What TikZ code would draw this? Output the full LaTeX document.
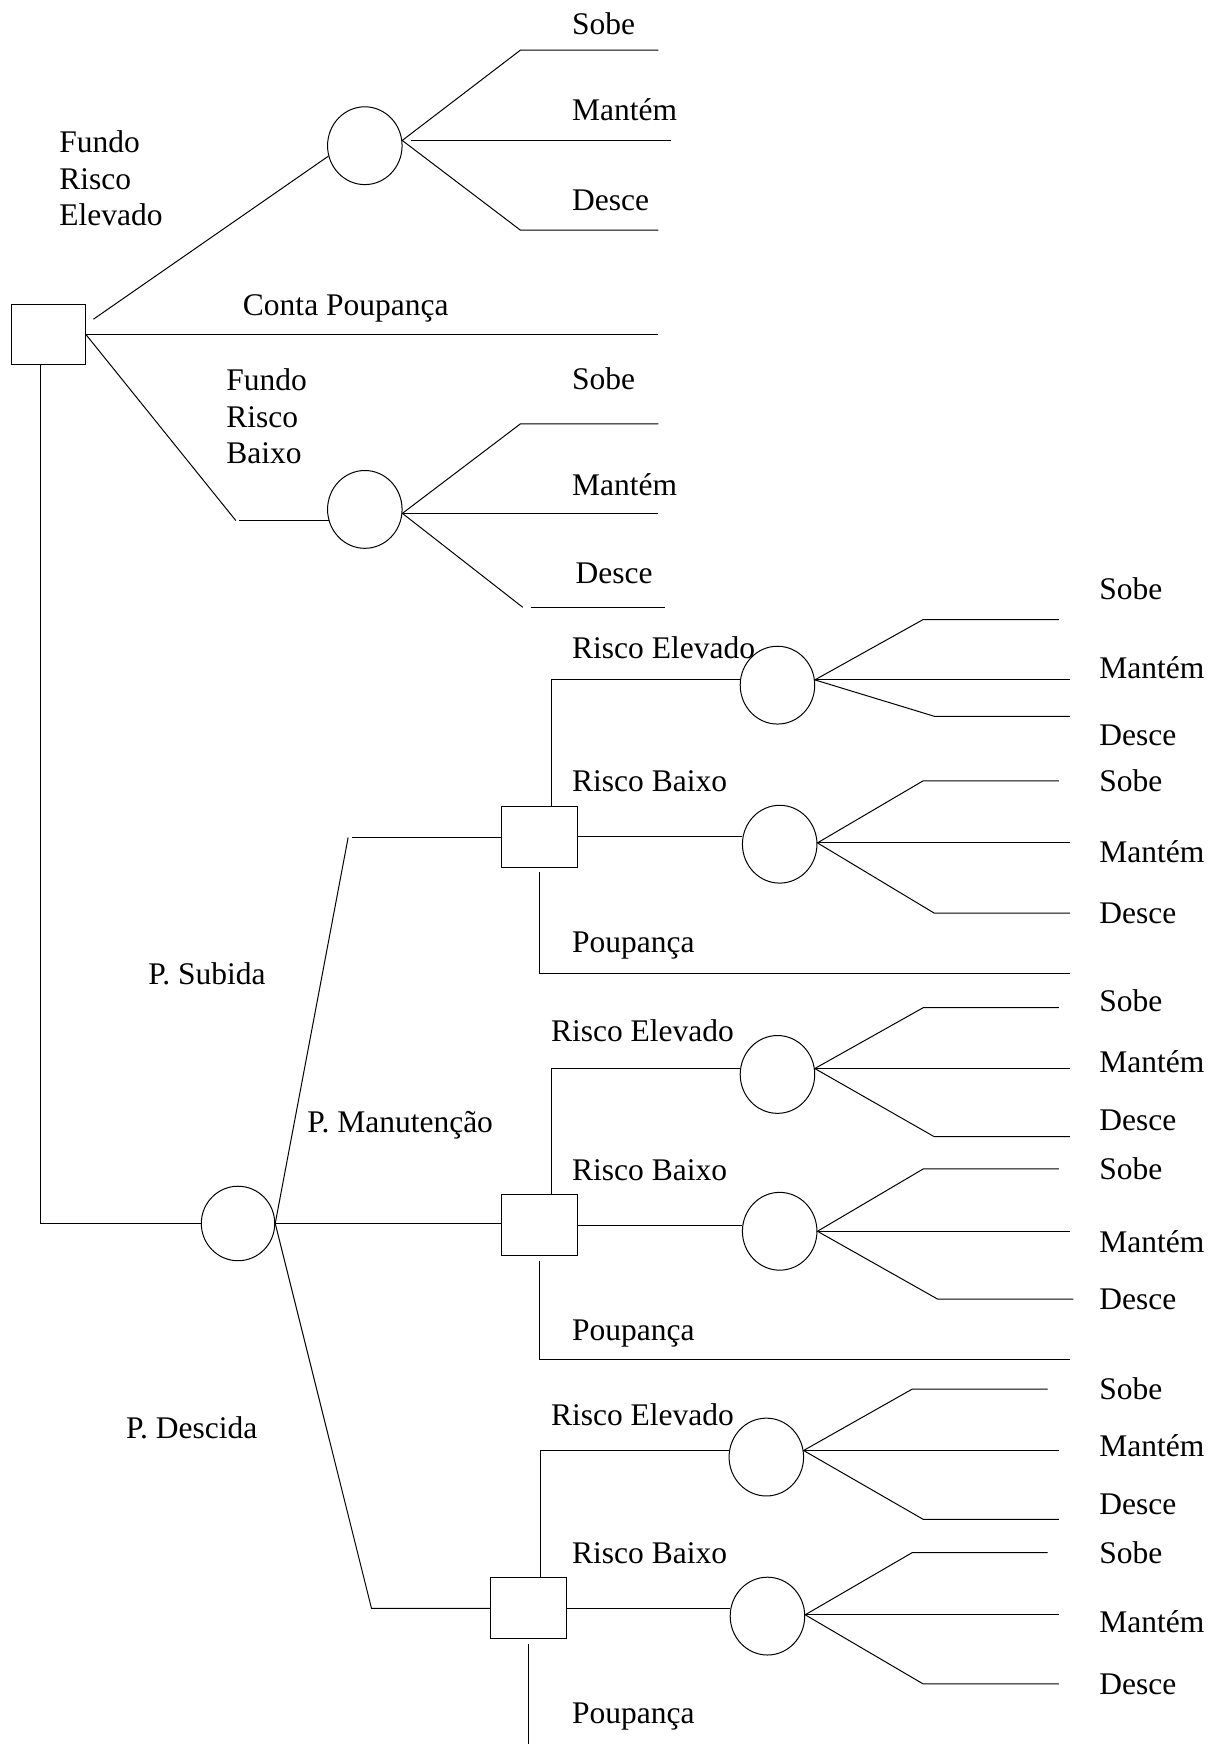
\documentclass[tikz,border=0pt]{standalone}
\usepackage{fontspec}
\setmainfont{Liberation Serif}
\usetikzlibrary{shapes.geometric}
\begin{document}
\begin{tikzpicture}[x=1.112pt,y=-1.112pt,line width=1pt,
  decision/.style={draw,rectangle,inner sep=0pt,minimum width=75.6pt,minimum height=61.2pt},
  chance/.style={draw,ellipse,inner sep=0pt,minimum width=74.5pt,minimum height=77.8pt},
  lbl/.style={inner sep=0pt,anchor=west,text height=20.8pt,text depth=0pt,
              font=\fontsize{31.5}{36.7}\selectfont},
  lblm/.style={inner sep=0pt,anchor=north west,align=left,
              font=\fontsize{31.5}{36.7}\selectfont}]
\path[use as bounding box] (0,0) rectangle (1089,1568);

% ---------- nodes ----------
\node[decision,minimum width=74.5pt,minimum height=60pt] (A) at (43.5,301) {};
\node[chance] (C1) at (328,131) {};
\node[chance] (C2) at (328,458) {};
\node[chance,minimum width=73.4pt,minimum height=74.5pt] (B) at (214,1100) {};
\node[decision] (S1) at (485,752.5) {};
\node[decision] (S2) at (485,1101.5) {};
\node[decision] (S3) at (475,1446) {};
\node[chance] (D1) at (699,616) {};
\node[chance] (D2) at (701,759) {};
\node[chance] (E1) at (699,966) {};
\node[chance] (E2) at (701,1107) {};
\node[chance] (F1) at (689,1310) {};
\node[chance] (F2) at (690,1453) {};

% ---------- helper points ----------
\coordinate (A1) at (84,287);
\coordinate (A2) at (212,468);
\coordinate (CPend) at (592,300);
\coordinate (Bu) at (313,753);
\coordinate (Bd) at (334,1446);
\coordinate (S1p) at (962,875);
\coordinate (S2p) at (962,1222);
\coordinate (S3p) at (475,1568);

% ---------- first decision ----------
\draw (A1) -- (C1.196);
\draw (A.east) -- (A.east -| CPend);
\draw (A.east) -- (A2);
\draw ([xshift=3.3pt]A2) -- (C2.197 |- A2);
\draw ([xshift=-8.3pt]A.south) |- (B.west);

% fan of C1
\coordinate (C1sE) at (468,45);  \coordinate (C1sF) at (592,45);
\coordinate (C1mF) at (603,126);
\coordinate (C1dE) at (468,207); \coordinate (C1dF) at (592,207);
\draw (C1sF) -- (C1sE) -- (C1.8) -- (C1dE) -- (C1dF);
\draw ([xshift=9pt]C1.8) -- (C1.8 -| C1mF);

% fan of C2
\coordinate (C2sE) at (468,381); \coordinate (C2sF) at (592,381);
\coordinate (C2mF) at (592,462);
\coordinate (C2dE) at (470,546); \coordinate (C2dF) at (598,546);
\draw (C2sF) -- (C2sE) -- (C2.-6) -- (C2dE);
\draw ([xshift=7.8pt]C2dE) -- (C2dF);
\draw (C2.-6) -- (C2.-6 -| C2mF);

% ---------- market chance node ----------
\draw (B.east) -- (Bu);
\draw ([xshift=4pt]Bu) -- (S1.west |- Bu);
\draw (B.east) -- (B.east -| S2.west);
\draw (B.east) -- (Bd) -- (S3.west);

% ---------- second-stage decisions ----------
\draw ([xshift=12.2pt]S1.north) |- (D1.172);
\draw (S1.east) -- (S1.east -| D2.west);
\draw ([yshift=-4.4pt]S1.south) |- (S1p);

\draw ([xshift=12.2pt]S2.north) |- (E1.171);
\draw (S2.east) -- (S2.east -| E2.west);
\draw ([yshift=-4.4pt]S2.south) |- (S2p);

\draw ([xshift=12.2pt]S3.north) |- (F1.170);
\draw (S3.east) -- (S3.east -| F2.west);
\draw ([yshift=-4.4pt]S3.south) -- (S3.south |- S3p);

% fans of the second-stage chance nodes
\coordinate (D1sE) at (830,557);  \coordinate (D1sF) at (952,557);
\coordinate (D1mF) at (962,611);
\coordinate (D1dE) at (840,644);  \coordinate (D1dF) at (962,644);
\draw (D1sF) -- (D1sE) -- (D1.8) -- (D1dE) -- (D1dF);
\draw (D1.8) -- (D1.8 -| D1mF);

\coordinate (D2sE) at (830,702);  \coordinate (D2sF) at (952,702);
\coordinate (D2mF) at (962,760);
\coordinate (D2dE) at (840,821);  \coordinate (D2dF) at (962,821);
\draw (D2sF) -- (D2sE) -- (D2.2) -- (D2dE) -- (D2dF);
\draw (D2.2) -- (D2.2 -| D2mF);

\coordinate (E1sE) at (830,906);  \coordinate (E1sF) at (952,906);
\coordinate (E1mF) at (962,960);
\coordinate (E1dE) at (840,1022); \coordinate (E1dF) at (962,1022);
\draw (E1sF) -- (E1sE) -- (E1.9) -- (E1dE) -- (E1dF);
\draw (E1.9) -- (E1.9 -| E1mF);

\coordinate (E2sE) at (830,1051); \coordinate (E2sF) at (952,1051);
\coordinate (E2mF) at (962,1107);
\coordinate (E2dE) at (843,1168); \coordinate (E2dF) at (965,1168);
\draw (E2sF) -- (E2sE) -- (E2.0) -- (E2dE) -- (E2dF);
\draw (E2.0) -- (E2.0 -| E2mF);

\coordinate (F1sE) at (820,1249); \coordinate (F1sF) at (942,1249);
\coordinate (F1mF) at (952,1304);
\coordinate (F1dE) at (830,1366); \coordinate (F1dF) at (952,1366);
\draw (F1sF) -- (F1sE) -- (F1.10) -- (F1dE) -- (F1dF);
\draw (F1.10) -- (F1.10 -| F1mF);

\coordinate (F2sE) at (820,1396); \coordinate (F2sF) at (942,1396);
\coordinate (F2mF) at (952,1453);
\coordinate (F2dE) at (830,1514); \coordinate (F2dF) at (952,1514);
\draw (F2sF) -- (F2sE) -- (F2.2) -- (F2dE) -- (F2dF);
\draw (F2.2) -- (F2.2 -| F2mF);

% ---------- labels ----------
\node[lblm] (tFRE) at (53,117) {Fundo\\Risco\\Elevado};
\node[lbl] (tCP) at (218,274) {Conta Poupança};
\node[lblm] (tFRB) at (203,331) {Fundo\\Risco\\Baixo};

\node[lbl] (tC1s) at (514,22)  {Sobe};
\node[lbl] (tC1m) at (514,99)  {Mantém};
\node[lbl] (tC1d) at (514,180) {Desce};
\node[lbl] (tC2s) at (514,341) {Sobe};
\node[lbl] (tC2m) at (514,436) {Mantém};
\node[lbl] (tC2d) at (517,515) {Desce};

\node[lbl] (tPS) at (133,876)  {P. Subida};
\node[lbl] (tPM) at (276,1009) {P. Manutenção};
\node[lbl] (tPD) at (113,1284) {P. Descida};

\node[lbl] (tS1e) at (514,583)  {Risco Elevado};
\node[lbl] (tS1b) at (514,702)  {Risco Baixo};
\node[lbl] (tS1p) at (514,847)  {Poupança};
\node[lbl] (tS2e) at (495,927)  {Risco Elevado};
\node[lbl] (tS2b) at (514,1052) {Risco Baixo};
\node[lbl] (tS2p) at (514,1196) {Poupança};
\node[lbl] (tS3e) at (495,1272) {Risco Elevado};
\node[lbl] (tS3b) at (514,1396) {Risco Baixo};
\node[lbl] (tS3p) at (514,1540) {Poupança};

\foreach \n/\yy/\t in {1/530/Sobe,2/601/Mantém,3/661/Desce,
                       4/702/Sobe,5/766/Mantém,6/821/Desce,
                       7/900/Sobe,8/955/Mantém,9/1007/Desce,
                       10/1051/Sobe,11/1117/Mantém,12/1168/Desce,
                       13/1249/Sobe,14/1300/Mantém,15/1352/Desce,
                       16/1396/Sobe,17/1458/Mantém,18/1514/Desce}
  \node[lbl] (tr\n) at (988,\yy) {\t};
\end{tikzpicture}
\end{document}
